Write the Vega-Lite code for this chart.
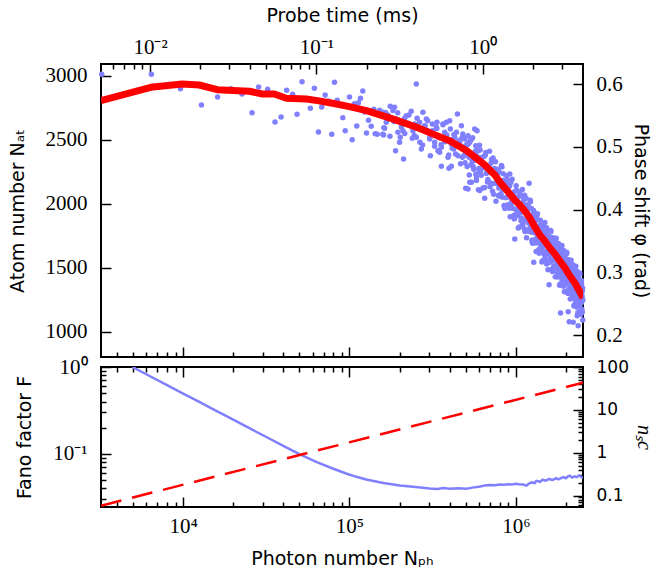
{
  "$schema": "https://vega.github.io/schema/vega-lite/v6.json",
  "padding": {"left": 7, "top": 5, "right": 0, "bottom": 5},
  "background": "white",
  "bounds": "flush",
  "spacing": 10,
  "config": {
    "view": {"stroke": "black", "strokeWidth": 2},
    "axis": {"domain": false, "grid": false, "tickColor": "black", "tickWidth": 1.5, "labelColor": "black", "titleColor": "black", "labelFont": "Liberation Serif", "labelFontSize": 21, "titleFont": "DejaVu Sans", "titleFontSize": 19, "titleFontWeight": "normal", "labelOverlap": false, "labelFlush": false, "labelBound": false}
  },
  "datasets": {
    "scatter": [
      {"N":3236,"A":3011},{"N":6440,"A":3011},{"N":9630,"A":2898},{"N":12880,"A":2771},{"N":16100,"A":2834},{"N":19380,"A":2898},{"N":22580,"A":2857},{"N":25950,"A":2711},{"N":28440,"A":2912},{"N":32210,"A":2894},{"N":35660,"A":2638},{"N":38790,"A":2677},{"N":41900,"A":2886},{"N":45520,"A":2855},{"N":48380,"A":2698},{"N":51860,"A":2953},{"N":58200,"A":2745},{"N":61520,"A":2902},{"N":65060,"A":2560},{"N":68110,"A":2755},{"N":71420,"A":2849},{"N":74690,"A":2802},{"N":78220,"A":2542},{"N":81220,"A":2948},{"N":84330,"A":2808},{"N":91180,"A":2672},{"N":94220,"A":2570},{"N":100000,"A":2834},{"N":103800,"A":2500},{"N":107100,"A":2781},{"N":110600,"A":2607},{"N":113200,"A":2789},{"N":116500,"A":2823},{"N":120200,"A":2880},{"N":123100,"A":2716},{"N":126600,"A":2552},{"N":130100,"A":2652},{"N":135100,"A":2605},{"N":140100,"A":2738},{"N":142800,"A":2547},{"N":146800,"A":2542},{"N":151600,"A":2730},{"N":153700,"A":2693},{"N":158800,"A":2542},{"N":161000,"A":2594},{"N":252200,"A":2935},
      {"N":158700,"A":2714},{"N":162500,"A":2589},{"N":160300,"A":2537},{"N":166400,"A":2636},{"N":170100,"A":2693},{"N":175900,"A":2761},{"N":182400,"A":2727},{"N":186700,"A":2753},{"N":191100,"A":2662},{"N":195400,"A":2558},{"N":202000,"A":2519},{"N":200100,"A":2480},{"N":189300,"A":2414},{"N":211500,"A":2349},{"N":209500,"A":2570},{"N":214500,"A":2667},{"N":219600,"A":2687},{"N":227600,"A":2693},{"N":232100,"A":2609},{"N":238600,"A":2511},{"N":240600,"A":2570},{"N":246400,"A":2623},{"N":252200,"A":2519},{"N":257900,"A":2589},{"N":264100,"A":2636},{"N":270400,"A":2427},{"N":276400,"A":2714},{"N":283000,"A":2609},{"N":289700,"A":2662},{"N":296200,"A":2570},{"N":303300,"A":2505},{"N":306300,"A":2375},{"N":314900,"A":2623},{"N":317500,"A":2545},{"N":325100,"A":2480},{"N":332900,"A":2597},{"N":335700,"A":2636},{"N":340400,"A":2414},{"N":348500,"A":2402},{"N":356800,"A":2441},{"N":364800,"A":2623},{"N":368400,"A":2505},{"N":373500,"A":2558},{"N":382400,"A":2636},{"N":391000,"A":2362},{"N":400300,"A":2648},{"N":404200,"A":2584},{"N":409900,"A":2466},{"N":356800,"A":2292},{"N":396400,"A":2277},{"N":409900,"A":2292},{"N":423100,"A":2427},{"N":429000,"A":2519},{"N":439300,"A":2558},{"N":445500,"A":2701},{"N":449200,"A":2375},{"N":460000,"A":2480},{"N":470900,"A":2609},{"N":477500,"A":2362},{"N":481500,"A":2441},{"N":493100,"A":2505},{"N":499900,"A":2402},{"N":508900,"A":2466},{"N":516100,"A":2531},{"N":523300,"A":2362},{"N":528400,"A":2480},{"N":541000,"A":2505},{"N":548600,"A":2297},{"N":553200,"A":2388},{"N":558500,"A":2271},{"N":566200,"A":2584},{"N":574100,"A":2453},{"N":579800,"A":2375},{"N":592800,"A":2414},{"N":601000,"A":2245},{"N":584600,"A":2570},{"N":528400,"A":2167},{"N":516100,"A":2115},{"N":499900,"A":2120},{"N":579800,"A":2180},{"N":596100,"A":2109},
      {"N":165000,"A":2712},{"N":175000,"A":2526},{"N":185000,"A":2641},{"N":195000,"A":2710},{"N":205000,"A":2599},{"N":215000,"A":2548},{"N":225000,"A":2629},{"N":235000,"A":2722},{"N":245000,"A":2533},{"N":255000,"A":2668},{"N":265000,"A":2479},{"N":275000,"A":2459},{"N":285000,"A":2607},{"N":295000,"A":2647},{"N":305000,"A":2518},{"N":315000,"A":2570},{"N":325000,"A":2449},{"N":335000,"A":2587},{"N":345000,"A":2515},{"N":355000,"A":2460},{"N":365000,"A":2616},{"N":375000,"A":2484},{"N":385000,"A":2537},{"N":395000,"A":2381},{"N":405000,"A":2500},{"N":415000,"A":2433},{"N":425000,"A":2540},{"N":435000,"A":2388},{"N":445000,"A":2459},{"N":455000,"A":2494},{"N":465000,"A":2312},{"N":475000,"A":2515},
      {"N":480000,"A":2545},{"N":490000,"A":2378},{"N":500000,"A":2451},{"N":510000,"A":2291},{"N":520000,"A":2474},{"N":530000,"A":2379},{"N":540000,"A":2307},{"N":550000,"A":2514},{"N":560000,"A":2338},{"N":570000,"A":2410},{"N":580000,"A":2202},{"N":590000,"A":2363},{"N":600000,"A":2275},{"N":610000,"A":2420},{"N":620000,"A":2221},{"N":630000,"A":2317},{"N":640000,"A":2366},{"N":650000,"A":2127},{"N":660000,"A":2399},{"N":670000,"A":2246},{"N":680000,"A":2189},{"N":690000,"A":2293},{"N":700000,"A":2133},{"N":710000,"A":2317},{"N":720000,"A":2237},{"N":730000,"A":2357},{"N":740000,"A":2158},{"N":750000,"A":2262},{"N":760000,"A":2018},{"N":770000,"A":2176},{"N":780000,"A":2269},{"N":790000,"A":2123},{"N":800000,"A":2057},{"N":810000,"A":2170},{"N":820000,"A":2298},{"N":830000,"A":2050},{"N":840000,"A":2234},{"N":850000,"A":1986},{"N":860000,"A":1962},{"N":870000,"A":2162},
      {"N":880000,"A":2219},{"N":890000,"A":2051},{"N":900000,"A":2124},{"N":910000,"A":1964},{"N":920000,"A":2148},{"N":930000,"A":2054},{"N":940000,"A":1982},{"N":950000,"A":2191},{"N":960000,"A":2016},{"N":970000,"A":2089},{"N":980000,"A":1881},{"N":990000,"A":2042},{"N":1000000,"A":1957},{"N":1010000,"A":2104},{"N":1020000,"A":1906},{"N":1030000,"A":2005},{"N":1040000,"A":2055},{"N":1050000,"A":1818},{"N":1060000,"A":2092},{"N":1070000,"A":1942},{"N":1080000,"A":1888},{"N":1090000,"A":1994},{"N":1100000,"A":1835},{"N":1110000,"A":2021},{"N":1120000,"A":1943},{"N":1130000,"A":2065},{"N":1140000,"A":1866},{"N":1150000,"A":1971},{"N":1160000,"A":1733},{"N":1170000,"A":1894},{"N":1180000,"A":1991},{"N":1190000,"A":1848},{"N":1200000,"A":1785},{"N":1210000,"A":1899},{"N":1220000,"A":2027},{"N":1230000,"A":1779},{"N":1240000,"A":1963},{"N":1250000,"A":1715},{"N":1260000,"A":1691},{"N":1270000,"A":1891},
      {"N":1280000,"A":1947},{"N":1290000,"A":1779},{"N":1300000,"A":1851},{"N":1310000,"A":1693},{"N":1320000,"A":1878},{"N":1330000,"A":1783},{"N":1340000,"A":1712},{"N":1350000,"A":1922},{"N":1360000,"A":1747},{"N":1370000,"A":1820},{"N":1380000,"A":1613},{"N":1390000,"A":1774},{"N":1400000,"A":1689},{"N":1410000,"A":1836},{"N":1420000,"A":1640},{"N":1430000,"A":1739},{"N":1440000,"A":1790},{"N":1450000,"A":1554},{"N":1460000,"A":1829},{"N":1470000,"A":1680},{"N":1480000,"A":1628},{"N":1490000,"A":1735},{"N":1500000,"A":1578},{"N":1510000,"A":1765},{"N":1520000,"A":1688},{"N":1530000,"A":1811},{"N":1540000,"A":1614},{"N":1550000,"A":1721},{"N":1560000,"A":1484},{"N":1570000,"A":1646},{"N":1580000,"A":1745},{"N":1590000,"A":1604},{"N":1600000,"A":1543},{"N":1610000,"A":1659},{"N":1620000,"A":1791},{"N":1630000,"A":1547},{"N":1640000,"A":1734},{"N":1650000,"A":1490},{"N":1660000,"A":1470},{"N":1670000,"A":1674},
      {"N":1680000,"A":1734},{"N":1690000,"A":1570},{"N":1700000,"A":1646},{"N":1710000,"A":1490},{"N":1720000,"A":1678},{"N":1730000,"A":1586},{"N":1740000,"A":1517},{"N":1750000,"A":1729},{"N":1760000,"A":1556},{"N":1770000,"A":1632},{"N":1780000,"A":1427},{"N":1790000,"A":1591},{"N":1800000,"A":1506},{"N":1810000,"A":1654},{"N":1820000,"A":1457},{"N":1830000,"A":1557},{"N":1840000,"A":1608},{"N":1850000,"A":1372},{"N":1860000,"A":1648},{"N":1870000,"A":1500},{"N":1880000,"A":1448},{"N":1890000,"A":1556},{"N":1900000,"A":1400},{"N":1910000,"A":1588},{"N":1920000,"A":1512},{"N":1930000,"A":1636},{"N":1940000,"A":1440},{"N":1950000,"A":1548},{"N":1960000,"A":1312},{"N":1970000,"A":1476},{"N":1980000,"A":1575},{"N":1990000,"A":1435},{"N":2000000,"A":1374},{"N":2010000,"A":1490},{"N":2020000,"A":1621},{"N":2030000,"A":1377},{"N":2040000,"A":1564},{"N":2050000,"A":1320},{"N":2060000,"A":1299},{"N":2070000,"A":1503},
      {"N":2080000,"A":1562},{"N":2090000,"A":1398},{"N":2100000,"A":1474},{"N":2110000,"A":1317},{"N":2120000,"A":1505},{"N":2130000,"A":1414},{"N":2140000,"A":1346},{"N":2150000,"A":1558},{"N":2160000,"A":1387},{"N":2170000,"A":1463},{"N":2180000,"A":1260},{"N":2190000,"A":1424},{"N":2200000,"A":1341},{"N":2210000,"A":1489},{"N":2220000,"A":1293},{"N":2230000,"A":1394},{"N":2240000,"A":1446},{"N":2250000,"A":1210},{"N":2260000,"A":1487},{"N":2270000,"A":1339},{"N":2280000,"A":1286},{"N":2290000,"A":1394},{"N":2300000,"A":1238},{"N":2310000,"A":1425},{"N":2320000,"A":1349},{"N":2330000,"A":1473},{"N":2340000,"A":1277},{"N":2350000,"A":1384},{"N":2360000,"A":1148},{"N":2370000,"A":1312},{"N":2380000,"A":1411},{"N":2390000,"A":1271},{"N":2400000,"A":1211},{"N":2410000,"A":1327},{"N":2420000,"A":1458},{"N":2430000,"A":1214},{"N":2440000,"A":1401},{"N":2450000,"A":1157},{"N":2460000,"A":1136},{"N":2470000,"A":1340},
      {"N":2480000,"A":1399},{"N":2490000,"A":1234},{"N":2500000,"A":1310},{"N":2510000,"A":1153},{"N":2520000,"A":1341},{"N":2530000,"A":1248},
      {"N":485000,"A":2518},{"N":495000,"A":2319},{"N":505000,"A":2415},{"N":515000,"A":2463},{"N":525000,"A":2223},{"N":535000,"A":2495},{"N":545000,"A":2343},{"N":555000,"A":2286},{"N":565000,"A":2390},{"N":575000,"A":2230},{"N":585000,"A":2415},{"N":595000,"A":2335},{"N":605000,"A":2456},{"N":615000,"A":2257},{"N":625000,"A":2361},{"N":635000,"A":2122},{"N":645000,"A":2283},{"N":655000,"A":2379},{"N":665000,"A":2235},{"N":675000,"A":2170},{"N":685000,"A":2281},{"N":695000,"A":2409},{"N":705000,"A":2161},{"N":715000,"A":2345},{"N":725000,"A":2097},{"N":735000,"A":2074},{"N":745000,"A":2274},{"N":755000,"A":2328},{"N":765000,"A":2157},{"N":775000,"A":2227},{"N":785000,"A":2064},{"N":795000,"A":2246},{"N":805000,"A":2150},{"N":815000,"A":2078},{"N":825000,"A":2286},{"N":835000,"A":2110},{"N":845000,"A":2182},{"N":855000,"A":1974},{"N":865000,"A":2134},{"N":875000,"A":2047},
      {"N":885000,"A":2191},{"N":895000,"A":1992},{"N":905000,"A":2088},{"N":915000,"A":2136},{"N":925000,"A":1897},{"N":935000,"A":2170},{"N":945000,"A":2019},{"N":955000,"A":1964},{"N":965000,"A":2069},{"N":975000,"A":1909},{"N":985000,"A":2094},{"N":995000,"A":2016},{"N":1005000,"A":2139},{"N":1015000,"A":1941},{"N":1025000,"A":2048},{"N":1035000,"A":1810},{"N":1045000,"A":1973},{"N":1055000,"A":2071},{"N":1065000,"A":1929},{"N":1075000,"A":1867},{"N":1085000,"A":1981},{"N":1095000,"A":2111},{"N":1105000,"A":1864},{"N":1115000,"A":2050},{"N":1125000,"A":1804},{"N":1135000,"A":1782},{"N":1145000,"A":1983},{"N":1155000,"A":2040},{"N":1165000,"A":1874},{"N":1175000,"A":1947},{"N":1185000,"A":1788},{"N":1195000,"A":1973},{"N":1205000,"A":1878},{"N":1215000,"A":1807},{"N":1225000,"A":2015},{"N":1235000,"A":1839},{"N":1245000,"A":1911},{"N":1255000,"A":1703},{"N":1265000,"A":1863},{"N":1275000,"A":1775},
      {"N":1285000,"A":1919},{"N":1295000,"A":1719},{"N":1305000,"A":1816},{"N":1315000,"A":1866},{"N":1325000,"A":1627},{"N":1335000,"A":1900},{"N":1345000,"A":1749},{"N":1355000,"A":1695},{"N":1365000,"A":1800},{"N":1375000,"A":1641},{"N":1385000,"A":1826},{"N":1395000,"A":1748},{"N":1405000,"A":1871},{"N":1415000,"A":1674},{"N":1425000,"A":1782},{"N":1435000,"A":1545},{"N":1445000,"A":1708},{"N":1455000,"A":1808},{"N":1465000,"A":1667},{"N":1475000,"A":1606},{"N":1485000,"A":1722},{"N":1495000,"A":1853},{"N":1505000,"A":1608},{"N":1515000,"A":1795},{"N":1525000,"A":1550},{"N":1535000,"A":1529},{"N":1545000,"A":1732},{"N":1555000,"A":1791},{"N":1565000,"A":1625},{"N":1575000,"A":1700},{"N":1585000,"A":1543},{"N":1595000,"A":1730},{"N":1605000,"A":1637},{"N":1615000,"A":1569},{"N":1625000,"A":1781},{"N":1635000,"A":1609},{"N":1645000,"A":1684},{"N":1655000,"A":1480},{"N":1665000,"A":1644},{"N":1675000,"A":1560},
      {"N":1685000,"A":1708},{"N":1695000,"A":1512},{"N":1705000,"A":1612},{"N":1715000,"A":1664},{"N":1725000,"A":1428},{"N":1735000,"A":1704},{"N":1745000,"A":1555},{"N":1755000,"A":1503},{"N":1765000,"A":1610},{"N":1775000,"A":1454},{"N":1785000,"A":1641},{"N":1795000,"A":1565},{"N":1805000,"A":1688},{"N":1815000,"A":1492},{"N":1825000,"A":1599},{"N":1835000,"A":1363},{"N":1845000,"A":1526},{"N":1855000,"A":1626},{"N":1865000,"A":1486},{"N":1875000,"A":1426},{"N":1885000,"A":1542},{"N":1895000,"A":1674},{"N":1905000,"A":1430},{"N":1915000,"A":1618},{"N":1925000,"A":1374},{"N":1935000,"A":1354},{"N":1945000,"A":1558},{"N":1955000,"A":1618},{"N":1965000,"A":1454},{"N":1975000,"A":1530},{"N":1985000,"A":1373},{"N":1995000,"A":1561},{"N":2005000,"A":1468},{"N":2015000,"A":1400},{"N":2025000,"A":1611},{"N":2035000,"A":1439},{"N":2045000,"A":1514},{"N":2055000,"A":1310},{"N":2065000,"A":1473},{"N":2075000,"A":1389},
      {"N":2085000,"A":1536},{"N":2095000,"A":1340},{"N":2105000,"A":1440},{"N":2115000,"A":1491},{"N":2125000,"A":1256},{"N":2135000,"A":1532},{"N":2145000,"A":1384},{"N":2155000,"A":1333},{"N":2165000,"A":1441},{"N":2175000,"A":1286},{"N":2185000,"A":1474},{"N":2195000,"A":1399},{"N":2205000,"A":1523},{"N":2215000,"A":1327},{"N":2225000,"A":1436},{"N":2235000,"A":1200},{"N":2245000,"A":1364},{"N":2255000,"A":1465},{"N":2265000,"A":1325},{"N":2275000,"A":1265},{"N":2285000,"A":1380},{"N":2295000,"A":1512},{"N":2305000,"A":1268},{"N":2315000,"A":1455},{"N":2325000,"A":1211},{"N":2335000,"A":1191},{"N":2345000,"A":1395},{"N":2355000,"A":1454},{"N":2365000,"A":1290},{"N":2375000,"A":1366},{"N":2385000,"A":1209},{"N":2395000,"A":1397},{"N":2405000,"A":1305},{"N":2415000,"A":1237},{"N":2425000,"A":1448},{"N":2435000,"A":1276},{"N":2445000,"A":1351},{"N":2455000,"A":1147},{"N":2465000,"A":1310},{"N":2475000,"A":1226},
      {"N":2485000,"A":1373},{"N":2495000,"A":1176},{"N":2505000,"A":1276},{"N":2515000,"A":1327},{"N":2525000,"A":1091},
      {"N":1203000,"A":2159},{"N":986000,"A":1724},{"N":1282000,"A":1542},{"N":1585000,"A":1367},{"N":1858000,"A":1146},{"N":2094000,"A":1078},{"N":2213000,"A":1073},{"N":2372000,"A":1047},{"N":2339000,"A":1125},{"N":2065000,"A":1156},{"N":920000,"A":2232},{"N":607000,"A":2102},{"N":650000,"A":2042},{"N":541000,"A":2167},{"N":558000,"A":2271}
    ],
    "avg": [
      {"N":3206,"A":2805},{"N":6380,"A":2909},{"N":9860,"A":2935},{"N":12480,"A":2927},{"N":16030,"A":2890},{"N":25000,"A":2878},{"N":29950,"A":2857},{"N":35330,"A":2857},{"N":41700,"A":2823},{"N":55050,"A":2818},{"N":64100,"A":2805},{"N":79000,"A":2784},{"N":100000,"A":2758},{"N":126600,"A":2727},{"N":181500,"A":2662},{"N":253400,"A":2597},{"N":316000,"A":2545},{"N":400000,"A":2492},{"N":506600,"A":2414},{"N":566000,"A":2365},{"N":607000,"A":2334},{"N":651000,"A":2302},{"N":697000,"A":2263},{"N":748000,"A":2224},{"N":801000,"A":2170},{"N":859000,"A":2123},{"N":921000,"A":2076},{"N":986000,"A":2029},{"N":1057000,"A":1990},{"N":1133000,"A":1943},{"N":1214000,"A":1888},{"N":1302000,"A":1818},{"N":1395000,"A":1755},{"N":1495000,"A":1709},{"N":1602000,"A":1654},{"N":1718000,"A":1607},{"N":1841000,"A":1552},{"N":1974000,"A":1498},{"N":2115000,"A":1435},{"N":2267000,"A":1380},{"N":2430000,"A":1310},{"N":2535000,"A":1263}
    ],
    "fano": [
      {"N":4950,"F":1.0},{"N":6000,"F":0.825},{"N":8000,"F":0.619},{"N":10000,"F":0.495},{"N":12500,"F":0.396},{"N":15000,"F":0.33},{"N":20000,"F":0.2475},{"N":25000,"F":0.198},{"N":30000,"F":0.165},{"N":40000,"F":0.124},{"N":50000,"F":0.0995},{"N":63100,"F":0.081},{"N":79200,"F":0.068},{"N":95500,"F":0.0595},{"N":110000,"F":0.0545},{"N":126000,"F":0.0507},{"N":160000,"F":0.0463},{"N":200000,"F":0.0433},{"N":250000,"F":0.0415},{"N":303000,"F":0.04},{"N":340000,"F":0.0395},{"N":365000,"F":0.0405},{"N":400000,"F":0.0398},{"N":450000,"F":0.0402},{"N":505000,"F":0.0398},{"N":560000,"F":0.0412},{"N":600000,"F":0.042},{"N":650000,"F":0.0432},{"N":697000,"F":0.044},{"N":750000,"F":0.0436},{"N":800000,"F":0.0445},{"N":850000,"F":0.0441},{"N":900000,"F":0.0448},{"N":950000,"F":0.0444},{"N":1000000,"F":0.0452},{"N":1050000,"F":0.0447},{"N":1107000,"F":0.0445},{"N":1160000,"F":0.0432},{"N":1200000,"F":0.0455},{"N":1250000,"F":0.047},{"N":1300000,"F":0.0462},{"N":1330000,"F":0.049},{"N":1400000,"F":0.0478},{"N":1450000,"F":0.0505},{"N":1500000,"F":0.0492},{"N":1600000,"F":0.0515},{"N":1650000,"F":0.05},{"N":1750000,"F":0.0525},{"N":1800000,"F":0.051},{"N":1930000,"F":0.054},{"N":2000000,"F":0.0525},{"N":2050000,"F":0.0548},{"N":2110000,"F":0.0562},{"N":2180000,"F":0.0535},{"N":2250000,"F":0.0552},{"N":2330000,"F":0.054},{"N":2400000,"F":0.0565},{"N":2470000,"F":0.0545},{"N":2535000,"F":0.0525}
    ],
    "nsc": [{"N":3206,"n":0.058},{"N":2535000,"n":43}]
  },
  "vconcat": [
    {
      "width": 482,
      "height": 293,
      "layer": [
        {
          "encoding": {
            "x": {"field": "N", "type": "quantitative", "scale": {"type": "log", "domain": [3206, 2535000], "nice": false},
              "axis": {"orient": "bottom", "title": null, "labels": false,
                "values": [4000,5000,6000,7000,8000,9000,10000,20000,30000,40000,50000,60000,70000,80000,90000,100000,200000,300000,400000,500000,600000,700000,800000,900000,1000000,2000000],
                "tickSize": {"condition": {"test": "datum.value==10000||datum.value==100000||datum.value==1000000", "value": -10}, "value": -5}}},
            "y": {"field": "A", "type": "quantitative", "scale": {"domain": [802, 3091], "nice": false, "zero": false},
              "axis": {"orient": "left", "values": [1000,1500,2000,2500,3000], "format": "d", "tickSize": -10, "labelPadding": 24, "title": "Atom number Nₐₜ", "titlePadding": 18}}
          },
          "layer": [
            {"data": {"name": "scatter"}, "mark": {"type": "circle", "size": 30, "color": "#8080ff", "opacity": 1}},
            {"data": {"name": "avg"}, "mark": {"type": "line", "color": "#ff0000", "strokeWidth": 7, "strokeJoin": "round", "clip": true}}
          ]
        },
        {
          "data": {"values": [{"phi": 0.2}]},
          "mark": {"type": "rule", "opacity": 0},
          "encoding": {
            "y": {"field": "phi", "type": "quantitative", "scale": {"domain": [0.165, 0.632], "nice": false, "zero": false},
              "axis": {"orient": "right", "values": [0.2,0.3,0.4,0.5,0.6], "format": ".1f", "tickSize": -10, "labelPadding": 23, "title": "Phase shift φ (rad)", "titlePadding": 8}}
          }
        },
        {
          "data": {"values": [{"t": 0.01}]},
          "mark": {"type": "rule", "opacity": 0},
          "encoding": {
            "x": {"field": "t", "type": "quantitative", "scale": {"type": "log", "domain": [0.00507, 4.0], "nice": false},
              "axis": {"orient": "top", "title": "Probe time (ms)", "titlePadding": 6, "labelPadding": 17,
                "values": [0.006,0.007,0.008,0.009,0.01,0.02,0.03,0.04,0.05,0.06,0.07,0.08,0.09,0.1,0.2,0.3,0.4,0.5,0.6,0.7,0.8,0.9,1,2,3],
                "labelExpr": "datum.value==0.01?'10⁻²':datum.value==0.1?'10⁻¹':datum.value==1?'10⁰':''",
                "tickSize": {"condition": {"test": "datum.value==0.01||datum.value==0.1||datum.value==1", "value": -10}, "value": -5}}}
          }
        }
      ],
      "resolve": {"scale": {"x": "independent", "y": "independent"}}
    },
    {
      "width": 482,
      "height": 140,
      "layer": [
        {
          "data": {"name": "fano"},
          "mark": {"type": "line", "color": "#8080ff", "strokeWidth": 2.5, "clip": true},
          "encoding": {
            "x": {"field": "N", "type": "quantitative", "scale": {"type": "log", "domain": [3206, 2535000], "nice": false},
              "axis": {"orient": "bottom", "title": "Photon number Nₚₕ", "titlePadding": 8, "labelPadding": 18,
                "values": [4000,5000,6000,7000,8000,9000,10000,20000,30000,40000,50000,60000,70000,80000,90000,100000,200000,300000,400000,500000,600000,700000,800000,900000,1000000,2000000],
                "labelExpr": "datum.value==10000?'10⁴':datum.value==100000?'10⁵':datum.value==1000000?'10⁶':''",
                "tickSize": {"condition": {"test": "datum.value==10000||datum.value==100000||datum.value==1000000", "value": -10}, "value": -5}}},
            "y": {"field": "F", "type": "quantitative", "scale": {"type": "log", "domain": [0.0245, 1], "nice": false},
              "axis": {"orient": "left", "title": "Fano factor F", "titlePadding": 18, "labelPadding": 24,
                "values": [0.03,0.04,0.05,0.06,0.07,0.08,0.09,0.1,0.2,0.3,0.4,0.5,0.6,0.7,0.8,0.9,1],
                "labelExpr": "datum.value==1?'10⁰':datum.value==0.1?'10⁻¹':''",
                "tickSize": {"condition": {"test": "datum.value==1||datum.value==0.1", "value": -10}, "value": -5}}}
          }
        },
        {
          "data": {"name": "nsc"},
          "mark": {"type": "line", "color": "#ff0000", "strokeWidth": 2.5, "strokeDash": [21, 11], "clip": true},
          "encoding": {
            "x": {"field": "N", "type": "quantitative", "scale": {"type": "log", "domain": [3206, 2535000], "nice": false},
              "axis": {"orient": "top", "title": null, "labels": false,
                "values": [4000,5000,6000,7000,8000,9000,10000,20000,30000,40000,50000,60000,70000,80000,90000,100000,200000,300000,400000,500000,600000,700000,800000,900000,1000000,2000000],
                "tickSize": {"condition": {"test": "datum.value==10000||datum.value==100000||datum.value==1000000", "value": -10}, "value": -5}}},
            "y": {"field": "n", "type": "quantitative", "scale": {"type": "log", "domain": [0.054, 100], "nice": false},
              "axis": {"orient": "right", "title": "nₛc", "titleFont": "Liberation Serif", "titleFontStyle": "italic", "titleFontSize": 20, "titlePadding": 5, "labelPadding": 23, "labelFont": "DejaVu Sans", "labelFontSize": 17,
                "values": [0.06,0.07,0.08,0.09,0.1,0.2,0.3,0.4,0.5,0.6,0.7,0.8,0.9,1,2,3,4,5,6,7,8,9,10,20,30,40,50,60,70,80,90,100],
                "labelExpr": "datum.value==0.1?'0.1':datum.value==1?'1':datum.value==10?'10':datum.value==100?'100':''",
                "tickSize": {"condition": {"test": "datum.value==0.1||datum.value==1||datum.value==10||datum.value==100", "value": -10}, "value": -5}}}
          }
        }
      ],
      "resolve": {"scale": {"y": "independent"}, "axis": {"x": "independent", "y": "independent"}}
    }
  ]
}
